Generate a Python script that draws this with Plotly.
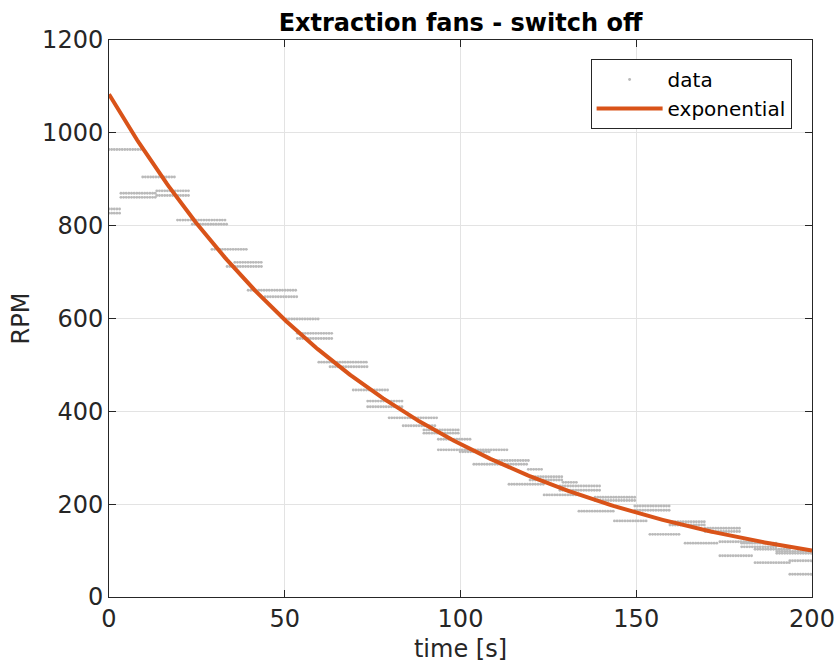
import numpy as np
import plotly.graph_objects as go

# Measured RPM: runs of constant (quantised) readings, sampled every dt seconds
run_start = [0, 0, 0, 3.4, 3.4, 9.6, 13.6, 13.6, 19.5, 23.7, 29.3, 35.8, 33.6, 39.6, 44.4,
             50.5, 53.6, 53.6, 59.7, 62.9, 69.5, 73.6, 73.6, 79.7, 83.7, 89.6, 89.6, 93.7,
             93.7, 99.9, 103.8, 110.3, 119.3, 113.8, 119.8, 119.8, 129.2, 128.3, 128.3,
             123.8, 133.7, 138.3, 138.3, 143.8, 149.6, 149.6, 153.9, 159.6, 159.6, 163.9,
             169.6, 169.6, 173.8, 173.8, 180, 180, 183.8, 183.8, 190, 190, 193.7, 193.7]
run_end = [9.1, 3.4, 3.4, 13.3, 13.3, 19.2, 23.3, 23.3, 33.5, 33.5, 39.4, 43.4, 43.4, 53.6, 53.6,
           59.5, 63.5, 63.5, 73.6, 73.6, 79.5, 83.4, 83.4, 93.4, 93.2, 99.6, 99.6, 103.4,
           113.3, 108.8, 119.3, 119.3, 123.5, 124, 129.2, 129.2, 133.5, 139.7, 139.7,
           134, 143.5, 149.6, 149.6, 153.4, 159.6, 159.6, 162.4, 169.6, 169.6, 173.5,
           179.5, 179.5, 183.3, 183.5, 190, 190, 193.7, 193.7, 200, 200, 200, 200]
run_rpm = [964, 836, 827, 870, 861, 905, 875, 865, 812, 803, 749, 721, 712, 661, 647,
           599, 568, 557, 506, 496, 446, 422, 410, 386, 369, 360, 353, 340,
           317, 313, 286, 294, 275, 243, 259, 252, 247, 239, 230,
           220, 185, 215, 208, 164, 196, 187, 135, 162, 155, 116,
           148, 141, 119, 89, 116, 108, 103, 74, 98, 94, 78, 49]
dt = 0.75

# Exponential fit parameters
fit_A = 1083.0
fit_tau = 84.0

t_data, rpm_data = [], []
for s, e, r in zip(run_start, run_end, run_rpm):
    ts = np.arange(s, e + 1e-6, dt)
    t_data.extend(ts.tolist())
    rpm_data.extend([r] * len(ts))

t_fit = np.linspace(0, 200, 401)
rpm_fit = fit_A * np.exp(-t_fit / fit_tau)

font = "DejaVu Sans"
txt = "#262626"
fs = 24

fig = go.Figure()
fig.add_trace(go.Scatter(x=t_data, y=rpm_data, mode="markers", name="data",
                         marker=dict(size=2.9, color="#bababa")))
fig.add_trace(go.Scatter(x=t_fit, y=rpm_fit, mode="lines", name="exponential",
                         line=dict(color="#D95319", width=4)))

axis_common = dict(showline=True, linecolor="#262626", linewidth=1, mirror="allticks",
                   ticks="inside", ticklen=7, tickcolor="#262626",
                   showgrid=True, gridcolor="#e3e3e3", gridwidth=1, zeroline=False,
                   automargin=False,
                   tickfont=dict(family=font, size=fs, color=txt))

fig.update_layout(
    width=838, height=664,
    margin=dict(l=109, r=26, t=40, b=67),
    paper_bgcolor="white", plot_bgcolor="white",
    title=dict(text="<b>Extraction fans - switch off</b>", x=0.5, xref="paper",
               y=1 - 23 / 664, yanchor="middle",
               font=dict(family=font, size=fs, color="black")),
    xaxis=dict(range=[0, 200], tickvals=[0, 50, 100, 150, 200],
               title=dict(text="time [s]", font=dict(family=font, size=fs, color=txt), standoff=8),
               **axis_common),
    yaxis=dict(range=[0, 1200], tickvals=[0, 200, 400, 600, 800, 1000, 1200],
               title=dict(text="RPM", font=dict(family=font, size=fs, color=txt), standoff=5),
               **axis_common),
    legend=dict(x=0.971, y=0.966, xanchor="right", yanchor="top",
                bgcolor="white", bordercolor="#262626", borderwidth=1,
                font=dict(family=font, size=20, color="black"),
                itemwidth=66, tracegroupgap=0),
    showlegend=True,
)

fig.write_html("out.html")
